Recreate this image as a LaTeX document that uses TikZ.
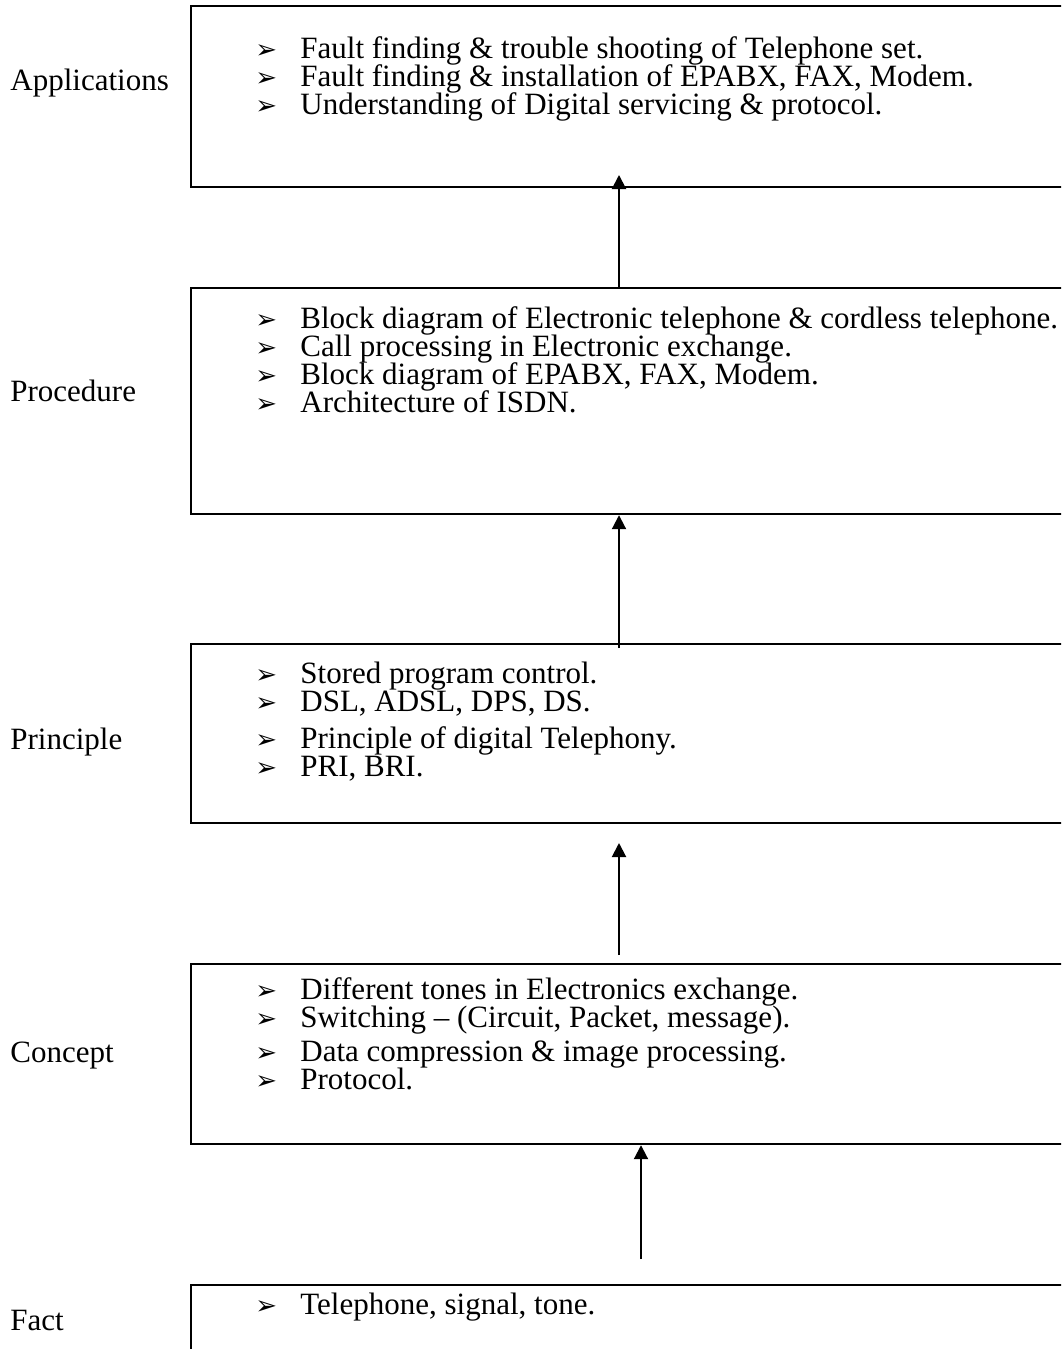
\documentclass[tikz,border=0pt]{standalone}
\usepackage{fontspec}
\setmainfont{Liberation Serif}
\newfontfamily\dingfont{DejaVu Sans}
\usetikzlibrary{arrows.meta}
\newcommand\mainfs{\fontsize{15.5}{18}\selectfont}
\newcommand\bulfs{\dingfont\fontsize{13}{14}\selectfont}
\tikzset{
  x=0.5pt, y=-0.5pt,
  box/.style={draw, line width=1.1pt, minimum width=440pt, inner sep=0pt, anchor=north west},
  lbl/.style={anchor=base west, inner sep=0pt, font=\mainfs},
  itm/.style={anchor=base west, inner sep=0pt, font=\mainfs},
  bul/.style={anchor=base west, inner sep=0pt, font=\bulfs},
  arr/.style={-{Triangle[length=7pt,width=7pt]}, line width=1pt}
}
\newcommand\bitem[3]{\node[bul] (#1b) at (255,#2) {➢}; \node[itm] (#1) at (300,#2) {#3};}
\begin{document}
\begin{tikzpicture}
\useasboundingbox (0,0) rectangle (1061,1349);
\begin{scope}
\clip (0,0) rectangle (1061,1349);
% boxes
\node[box, minimum height=90.5pt] (b1) at (190,5) {};
\node[box, minimum height=113pt] (b2) at (190,287) {};
\node[box, minimum height=89.5pt] (b3) at (190,643) {};
\node[box, minimum height=90pt] (b4) at (190,963) {};
\node[box, minimum height=70pt] (b5) at (190,1284) {};
\end{scope}
% labels
\node[lbl] (l1) at (10,90) {Applications};
\node[lbl] (l2) at (10,401) {Procedure};
\node[lbl] (l3) at (10,749) {Principle};
\node[lbl] (l4) at (10,1062) {Concept};
\node[lbl] (l5) at (10,1330) {Fact};
% box 1
\bitem{a1}{58}{Fault finding \& trouble shooting of Telephone set.}
\bitem{a2}{86}{Fault finding \& installation of EPABX, FAX, Modem.}
\bitem{a3}{114}{Understanding of Digital servicing \& protocol.}
% box 2
\bitem{p1}{328}{Block diagram of Electronic telephone \& cordless telephone.}
\bitem{p2}{356}{Call processing in Electronic exchange.}
\bitem{p3}{384}{Block diagram of EPABX, FAX, Modem.}
\bitem{p4}{412}{Architecture of ISDN.}
% box 3
\bitem{r1}{683}{Stored program control.}
\bitem{r2}{711}{DSL, ADSL, DPS, DS.}
\bitem{r3}{748}{Principle of digital Telephony.}
\bitem{r4}{776}{PRI, BRI.}
% box 4
\bitem{c1}{999}{Different tones in Electronics exchange.}
\bitem{c2}{1027}{Switching -- (Circuit, Packet, message).}
\bitem{c3}{1061}{Data compression \& image processing.}
\bitem{c4}{1089}{Protocol.}
% box 5
\bitem{f1}{1314}{Telephone, signal, tone.}
% arrows
\coordinate (t1) at (619,175);
\coordinate (s2) at (619,648);
\coordinate (s3) at (619,955);
\coordinate (t3) at (619,843);
\coordinate (s4) at (641,1259);
\draw[arr] (b2.north -| t1) -- (t1);
\draw[arr] (s2) -- (b2.south -| s2);
\draw[arr] (s3) -- (t3);
\draw[arr] (s4) -- (b4.south -| s4);
\end{tikzpicture}
\end{document}
